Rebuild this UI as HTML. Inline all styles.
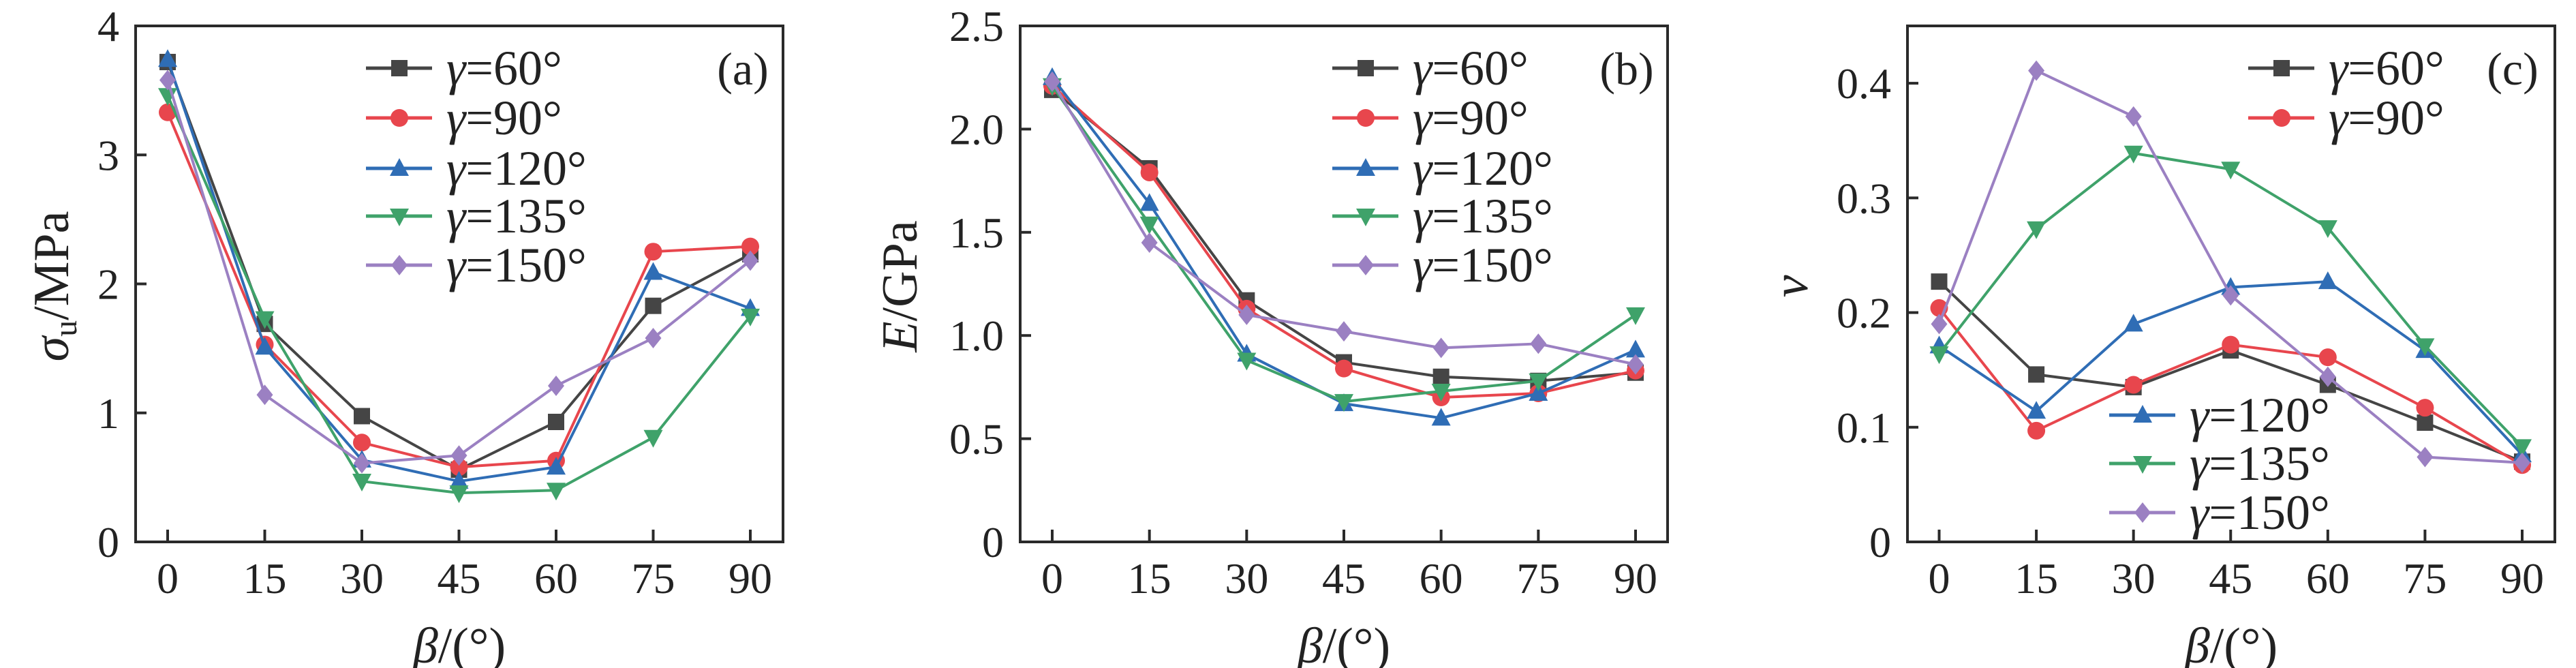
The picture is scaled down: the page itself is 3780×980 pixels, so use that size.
<!DOCTYPE html>
<html><head><meta charset="utf-8">
<style>
html,body{margin:0;padding:0;background:#fff;}
svg{display:block;font-family:"Liberation Serif","Times New Roman",serif;}
svg text{font-family:"Liberation Serif","Times New Roman",serif;fill:#222;}
</style></head>
<body>
<svg id="chart" width="3780" height="980" viewBox="0 0 3780 980" xmlns="http://www.w3.org/2000/svg" font-family="Liberation Serif, Times New Roman, serif"></svg>
<script>
const categories = [0, 15, 30, 45, 60, 75, 90];
const seriesNames = ["60°", "90°", "120°", "135°", "150°"];
const seriesColors = ["#454545", "#e8464d", "#2f6db5", "#3fa26a", "#9b80c2"];
const seriesMarkers = ["square", "circle", "tri-up", "tri-down", "diamond"];

const aG60  = [3.72, 1.69, 0.975, 0.56, 0.93, 1.83, 2.23];
const aG90  = [3.33, 1.53, 0.77, 0.58, 0.63, 2.25, 2.29];
const aG120 = [3.74, 1.51, 0.635, 0.47, 0.58, 2.09, 1.81];
const aG135 = [3.46, 1.73, 0.47, 0.38, 0.40, 0.81, 1.75];
const aG150 = [3.58, 1.14, 0.61, 0.67, 1.21, 1.58, 2.18];
const aTicks = ["0", "1", "2", "3", "4"];
const aTickVals = [0, 1, 2, 3, 4];

const bG60  = [2.19, 1.81, 1.17, 0.87, 0.80, 0.78, 0.82];
const bG90  = [2.21, 1.79, 1.13, 0.84, 0.70, 0.72, 0.83];
const bG120 = [2.25, 1.64, 0.91, 0.67, 0.60, 0.72, 0.93];
const bG135 = [2.21, 1.54, 0.88, 0.68, 0.73, 0.78, 1.10];
const bG150 = [2.23, 1.45, 1.10, 1.02, 0.94, 0.96, 0.86];
const bTicks = ["0", "0.5", "1.0", "1.5", "2.0", "2.5"];
const bTickVals = [0, 0.5, 1.0, 1.5, 2.0, 2.5];

const cG60  = [0.227, 0.146, 0.135, 0.167, 0.137, 0.104, 0.070];
const cG90  = [0.204, 0.097, 0.137, 0.172, 0.161, 0.117, 0.067];
const cG120 = [0.171, 0.114, 0.190, 0.222, 0.227, 0.167, 0.076];
const cG135 = [0.164, 0.273, 0.339, 0.325, 0.274, 0.171, 0.083];
const cG150 = [0.190, 0.411, 0.371, 0.215, 0.144, 0.074, 0.069];
const cTicks = ["0", "0.1", "0.2", "0.3", "0.4"];
const cTickVals = [0, 0.1, 0.2, 0.3, 0.4];

const NS = "http://www.w3.org/2000/svg";
const FONT = "Liberation Serif, Times New Roman, serif";
const svg = document.getElementById("chart");
function mk(tag, attrs, parent) {
  const e = document.createElementNS(NS, tag);
  for (const k in attrs) e.setAttribute(k, attrs[k]);
  if (tag === "text") e.setAttribute("font-family", FONT);
  (parent || svg).appendChild(e);
  return e;
}
function marker(g, type, cx, cy, color) {
  const s = 12;
  let e;
  if (type === "square") e = mk("rect", {x: cx - s, y: cy - s, width: 2 * s, height: 2 * s, fill: color}, g);
  else if (type === "circle") e = mk("circle", {cx: cx, cy: cy, r: s + 1, fill: color}, g);
  else if (type === "tri-up") e = mk("polygon", {points: `${cx},${cy - s - 3} ${cx - s - 2},${cy + s - 1} ${cx + s + 2},${cy + s - 1}`, fill: color}, g);
  else if (type === "tri-down") e = mk("polygon", {points: `${cx},${cy + s + 3} ${cx - s - 2},${cy - s + 1} ${cx + s + 2},${cy - s + 1}`, fill: color}, g);
  else e = mk("polygon", {points: `${cx},${cy - s - 3} ${cx + s},${cy} ${cx},${cy + s + 3} ${cx - s},${cy}`, fill: color}, g);
  
  
  return e;
}

function panel(cfg) {
  const g = mk("g", {});
  
  
  const top = 38, bottom = 795;
  const xs = v => cfg.x0 + (v / 90) * (cfg.x90 - cfg.x0);
  const ys = v => bottom - (v / cfg.ymax) * (bottom - top);
  categories.forEach(c => {
    const t = mk("line", {x1: xs(c), x2: xs(c), y1: bottom, y2: bottom - 18, stroke: "#2a2a2a", "stroke-width": 4}, g);
    
    
    const l = mk("text", {x: xs(c), y: 870, "text-anchor": "middle", "font-size": 64}, g);
    l.textContent = String(c);
    
    
  });
  cfg.tickVals.forEach((v, i) => {
    const t = mk("line", {x1: cfg.left, x2: cfg.left + 16, y1: ys(v), y2: ys(v), stroke: "#2a2a2a", "stroke-width": 4}, g);
    
    
    const l = mk("text", {x: cfg.left - 24, y: ys(v) + 22, "text-anchor": "end", "font-size": 64}, g);
    l.textContent = cfg.ticks[i];
    
    
  });
  const box = mk("rect", {x: cfg.left, y: top, width: cfg.right - cfg.left, height: bottom - top, fill: "none", stroke: "#2a2a2a", "stroke-width": 4}, g);
  
  
  cfg.series.forEach((vals, si) => {
    const sg = mk("g", {}, g);
    
    
    const pts = vals.map((v, i) => xs(categories[i]) + "," + ys(v)).join(" ");
    const pl = mk("polyline", {points: pts, fill: "none", stroke: seriesColors[si], "stroke-width": 4, "stroke-linejoin": "round"}, sg);
    
    
    vals.forEach((v, i) => marker(sg, seriesMarkers[si], xs(categories[i]), ys(v), seriesColors[si]));
  });
  cfg.legend.forEach(le => {
    const lg = mk("g", {}, g);
    
    
    const col = seriesColors[le.s];
    mk("line", {x1: le.x, x2: le.x + 97, y1: le.y, y2: le.y, stroke: col, "stroke-width": 5}, lg);
    marker(lg, seriesMarkers[le.s], le.x + 49, le.y, col);
    const t = mk("text", {x: le.x + 118, y: le.y + 24, "font-size": 72}, lg);
    t.innerHTML = '<tspan font-style="italic">γ</tspan>=' + seriesNames[le.s];
    
    
  });
  const pl = mk("text", {x: cfg.tagX, y: 124, "text-anchor": "middle", "font-size": 68}, g);
  pl.textContent = "(" + cfg.id + ")";
  
  
  const xt = mk("text", {x: (cfg.left + cfg.right) / 2, y: 972, "text-anchor": "middle", "font-size": 74}, g);
  xt.innerHTML = '<tspan font-style="italic">β</tspan>/(°)';
  
  
  const yt = mk("text", {x: 0, y: 0, "text-anchor": "middle", "font-size": 74, transform: `translate(${cfg.titleX},420) rotate(-90)`}, g);
  yt.innerHTML = cfg.title;
  
  
}

panel({id: "a", left: 199, right: 1149, x0: 246, x90: 1101, ymax: 4,
  ticks: aTicks, tickVals: aTickVals, series: [aG60, aG90, aG120, aG135, aG150],
  legend: [{s:0,x:537,y:100},{s:1,x:537,y:173},{s:2,x:537,y:247},{s:3,x:537,y:317},{s:4,x:537,y:389}],
  tagX: 1090, titleX: 100,
  title: '<tspan font-style="italic">σ</tspan><tspan font-size="48" dy="12">u</tspan><tspan dy="-12">/MPa</tspan>'});
panel({id: "b", left: 1497, right: 2447, x0: 1544, x90: 2400, ymax: 2.5,
  ticks: bTicks, tickVals: bTickVals, series: [bG60, bG90, bG120, bG135, bG150],
  legend: [{s:0,x:1955,y:100},{s:1,x:1955,y:173},{s:2,x:1955,y:247},{s:3,x:1955,y:317},{s:4,x:1955,y:389}],
  tagX: 2387, titleX: 1345,
  title: '<tspan font-style="italic">E</tspan>/GPa'});
panel({id: "c", left: 2799, right: 3749, x0: 2845.5, x90: 3701, ymax: 0.45,
  ticks: cTicks, tickVals: cTickVals, series: [cG60, cG90, cG120, cG135, cG150],
  legend: [{s:0,x:3299,y:100},{s:1,x:3299,y:173},{s:2,x:3095,y:609},{s:3,x:3095,y:680},{s:4,x:3095,y:752}],
  tagX: 3687, titleX: 2652,
  title: '<tspan font-style="italic">ν</tspan>'});
</script>
</body></html>
